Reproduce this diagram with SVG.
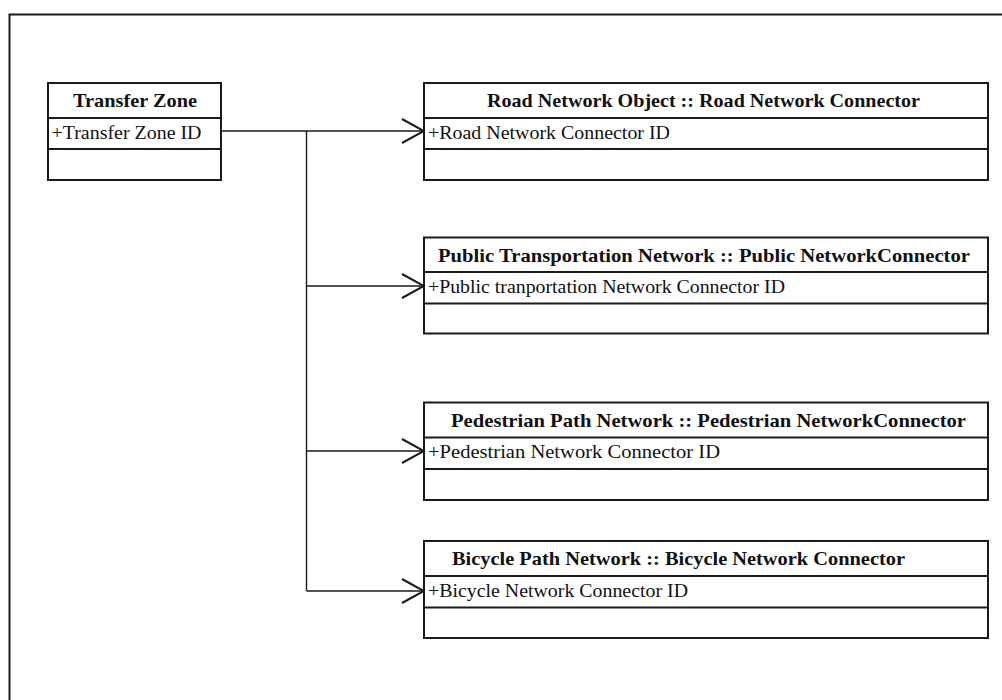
<svg xmlns="http://www.w3.org/2000/svg" width="1002" height="700" viewBox="0 0 1002 700">
  <style>
    .box { fill: #ffffff; stroke: #1a1a1a; stroke-width: 2; }
    .sep { stroke: #1a1a1a; stroke-width: 2; }
    .frame { fill: none; stroke: #1a1a1a; stroke-width: 2; }
    .wire { fill: none; stroke: #1a1a1a; stroke-width: 1.4; }
    .head { font-family: "Liberation Serif", "Times New Roman", serif; font-size: 19px; font-weight: bold; fill: #111111; }
    .attr { font-family: "Liberation Serif", "Times New Roman", serif; font-size: 19px; fill: #111111; }
  </style>
  <defs>
    <!-- open UML navigability arrowhead -->
    <marker id="open" viewBox="0 0 24 26" refX="23" refY="13" markerWidth="24" markerHeight="26" markerUnits="userSpaceOnUse" orient="auto">
      <path d="M1,1 L23,13 L1,25" fill="none" stroke="#1a1a1a" stroke-width="2"/>
    </marker>
  </defs>

  <rect width="1002" height="700" fill="#ffffff"/>

  <!-- outer frame (open at right and bottom) -->
  <path class="frame" d="M9.5,700 L9.5,14.5 L1002,14.5"/>

  <!-- connectors -->
  <g id="connectors">
    <path class="wire" d="M221,131 L424,131" marker-end="url(#open)"/>
    <path class="wire" d="M306.5,131 L306.5,591"/>
    <path class="wire" d="M306.5,286 L424,286" marker-end="url(#open)"/>
    <path class="wire" d="M306.5,451 L424,451" marker-end="url(#open)"/>
    <path class="wire" d="M306.5,591 L424,591" marker-end="url(#open)"/>
  </g>

  <g id="transfer-zone">
    <rect class="box" x="48" y="83" width="173" height="97"/>
    <line class="sep" x1="48" y1="118" x2="221" y2="118"/>
    <line class="sep" x1="48" y1="149" x2="221" y2="149"/>
    <text class="head" x="73" y="106.5" textLength="124" lengthAdjust="spacingAndGlyphs">Transfer Zone</text>
    <text class="attr" x="51.5" y="138.5" textLength="150" lengthAdjust="spacingAndGlyphs">+Transfer Zone ID</text>
  </g>

  <g id="road-network-connector">
    <rect class="box" x="424" y="83" width="564" height="97"/>
    <line class="sep" x1="424" y1="118" x2="988" y2="118"/>
    <line class="sep" x1="424" y1="149" x2="988" y2="149"/>
    <text class="head" x="487" y="106.5" textLength="433" lengthAdjust="spacingAndGlyphs">Road Network Object :: Road Network Connector</text>
    <text class="attr" x="428" y="138.5" textLength="242" lengthAdjust="spacingAndGlyphs">+Road Network Connector ID</text>
  </g>

  <g id="public-network-connector">
    <rect class="box" x="424" y="237.5" width="564" height="96"/>
    <line class="sep" x1="424" y1="272" x2="988" y2="272"/>
    <line class="sep" x1="424" y1="303.5" x2="988" y2="303.5"/>
    <text class="head" x="438" y="261.5" textLength="532" lengthAdjust="spacingAndGlyphs">Public Transportation Network :: Public NetworkConnector</text>
    <text class="attr" x="428" y="292.5" textLength="357" lengthAdjust="spacingAndGlyphs">+Public tranportation Network Connector ID</text>
  </g>

  <g id="pedestrian-network-connector">
    <rect class="box" x="424" y="402.5" width="564" height="97.5"/>
    <line class="sep" x1="424" y1="437.5" x2="988" y2="437.5"/>
    <line class="sep" x1="424" y1="469" x2="988" y2="469"/>
    <text class="head" x="451" y="426.5" textLength="515" lengthAdjust="spacingAndGlyphs">Pedestrian Path Network :: Pedestrian NetworkConnector</text>
    <text class="attr" x="428" y="457.5" textLength="292" lengthAdjust="spacingAndGlyphs">+Pedestrian Network Connector ID</text>
  </g>

  <g id="bicycle-network-connector">
    <rect class="box" x="424" y="541" width="564" height="97"/>
    <line class="sep" x1="424" y1="576" x2="988" y2="576"/>
    <line class="sep" x1="424" y1="607.5" x2="988" y2="607.5"/>
    <text class="head" x="452" y="565" textLength="453" lengthAdjust="spacingAndGlyphs">Bicycle Path Network :: Bicycle Network Connector</text>
    <text class="attr" x="428" y="596.5" textLength="260" lengthAdjust="spacingAndGlyphs">+Bicycle Network Connector ID</text>
  </g>
</svg>
